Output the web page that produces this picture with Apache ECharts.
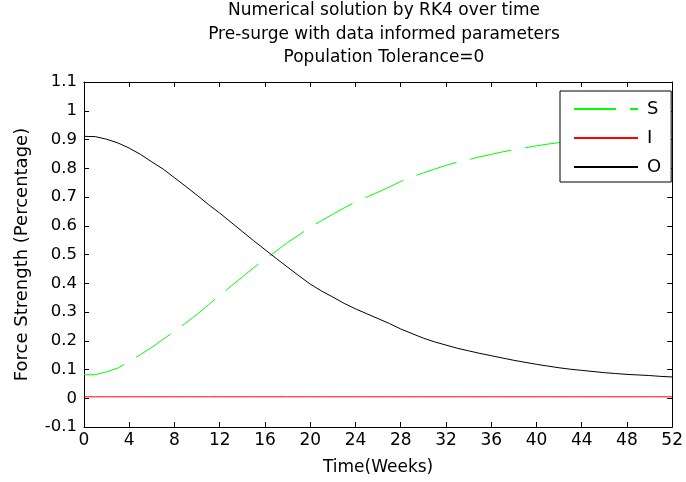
<!DOCTYPE html>
<html><head><meta charset="utf-8">
<script src="https://cdn.jsdelivr.net/npm/echarts@6/dist/echarts.min.js"></script>
<style>html,body{margin:0;padding:0;background:#fff}#c{width:686px;height:482px}</style>
</head><body><div id="c"></div>
<script>
const weeks = [0,1,2,3,4,5,6,7,8,9,10,11,12,13,14,15,16,17,18,19,20,21,22,23,24,25,26,27,28,29,30,31,32,33,34,35,36,37,38,39,40,41,42,43,44,45,46,47,48,49,50,51,52];
const S = [0.082,0.082,0.092,0.105,0.128,0.152,0.177,0.205,0.233,0.262,0.292,0.325,0.358,0.390,0.422,0.454,0.483,0.512,0.542,0.568,0.595,0.618,0.640,0.662,0.683,0.700,0.717,0.735,0.754,0.770,0.784,0.797,0.810,0.821,0.830,0.840,0.848,0.857,0.864,0.871,0.878,0.884,0.889,0.894,0.899,0.903,0.907,0.910,0.913,0.915,0.917,0.920,0.923];
const I = [0.005,0.005,0.005,0.005,0.005,0.005,0.005,0.005,0.005,0.005,0.005,0.005,0.005,0.005,0.005,0.005,0.005,0.005,0.005,0.005,0.005,0.005,0.005,0.005,0.005,0.005,0.005,0.005,0.005,0.005,0.005,0.005,0.005,0.005,0.005,0.005,0.005,0.005,0.005,0.005,0.005,0.005,0.005,0.005,0.005,0.005,0.005,0.005,0.005,0.005,0.005,0.005,0.005];
const O = [0.911,0.910,0.901,0.888,0.870,0.848,0.822,0.797,0.767,0.737,0.706,0.674,0.644,0.612,0.580,0.548,0.517,0.486,0.456,0.426,0.397,0.373,0.352,0.330,0.311,0.294,0.277,0.260,0.241,0.225,0.209,0.196,0.185,0.174,0.165,0.156,0.148,0.140,0.132,0.125,0.118,0.112,0.106,0.101,0.097,0.093,0.089,0.086,0.083,0.081,0.079,0.076,0.074];
const titleLines = ['Numerical solution by RK4 over time','Pre-surge with data informed parameters','Population Tolerance=0'];
const seriesNames = ['S','I','O'];

const FONT = '"DejaVu Sans", "Liberation Sans", Arial, sans-serif';
const pair = arr => weeks.map((w, i) => [w, arr[i]]);
const fmt = v => String(+v.toFixed(1));

const chart = echarts.init(document.getElementById('c'), null, {renderer: 'canvas'});
const axisLine = {show: true, onZero: false, lineStyle: {color: '#000', width: 1}};
const axisTick = {show: true, inside: true, length: 5, lineStyle: {color: '#000'}};
chart.setOption({
  animation: false,
  backgroundColor: '#fff',
  title: {
    text: titleLines.join('\n'),
    left: 379, textAlign: 'center', top: -6,
    textStyle: {fontFamily: FONT, fontSize: 17, fontWeight: 'normal', color: '#000', lineHeight: 23.5}
  },
  grid: {left: 84, right: 9, top: 82, bottom: 55, containLabel: false},
  legend: {
    orient: 'vertical', left: 560, top: 91,
    data: seriesNames,
    itemWidth: 64, itemHeight: 14, itemGap: 11,
    padding: [9, 10, 6, 13],
    itemStyle: {opacity: 0},
    backgroundColor: '#fff', borderColor: '#000', borderWidth: 1, borderRadius: 0,
    textStyle: {fontFamily: FONT, fontSize: 18, color: '#000', padding: [0, 0, 0, 4]}
  },
  xAxis: [{
    type: 'value', min: 0, max: 52, interval: 4,
    name: 'Time(Weeks)', nameLocation: 'middle', nameGap: 32,
    nameTextStyle: {fontFamily: FONT, fontSize: 17, color: '#000'},
    axisLine, axisTick, splitLine: {show: false},
    axisLabel: {fontFamily: FONT, fontSize: 17, color: '#000', margin: 5}
  }, {
    type: 'value', min: 0, max: 52, interval: 4, position: 'top',
    axisLine, axisTick, splitLine: {show: false}, axisLabel: {show: false}
  }],
  yAxis: [{
    type: 'value', min: -0.1, max: 1.1, interval: 0.1,
    name: 'Force Strength (Percentage)', nameLocation: 'middle', nameGap: 53,
    nameTextStyle: {fontFamily: FONT, fontSize: 18, color: '#000'},
    axisLine, axisTick, splitLine: {show: false},
    axisLabel: {fontFamily: FONT, fontSize: 16.5, color: '#000', margin: 7, formatter: fmt}
  }, {
    type: 'value', min: -0.1, max: 1.1, interval: 0.1, position: 'right',
    axisLine, axisTick, splitLine: {show: false}, axisLabel: {show: false}
  }],
  series: [
    {name: 'S', type: 'line', data: pair(S), symbol: 'none', smooth: false,
     lineStyle: {color: '#00ff00', width: 1, type: [42, 14]}, itemStyle: {color: '#00ff00'}, z: 3},
    {name: 'I', type: 'line', data: pair(I), symbol: 'none',
     lineStyle: {color: '#ff0000', width: 1}, itemStyle: {color: '#ff0000'}, z: 2},
    {name: 'O', type: 'line', data: pair(O), symbol: 'none',
     lineStyle: {color: '#000000', width: 1}, itemStyle: {color: '#000000'}, z: 4}
  ]
});
</script>
</body></html>
